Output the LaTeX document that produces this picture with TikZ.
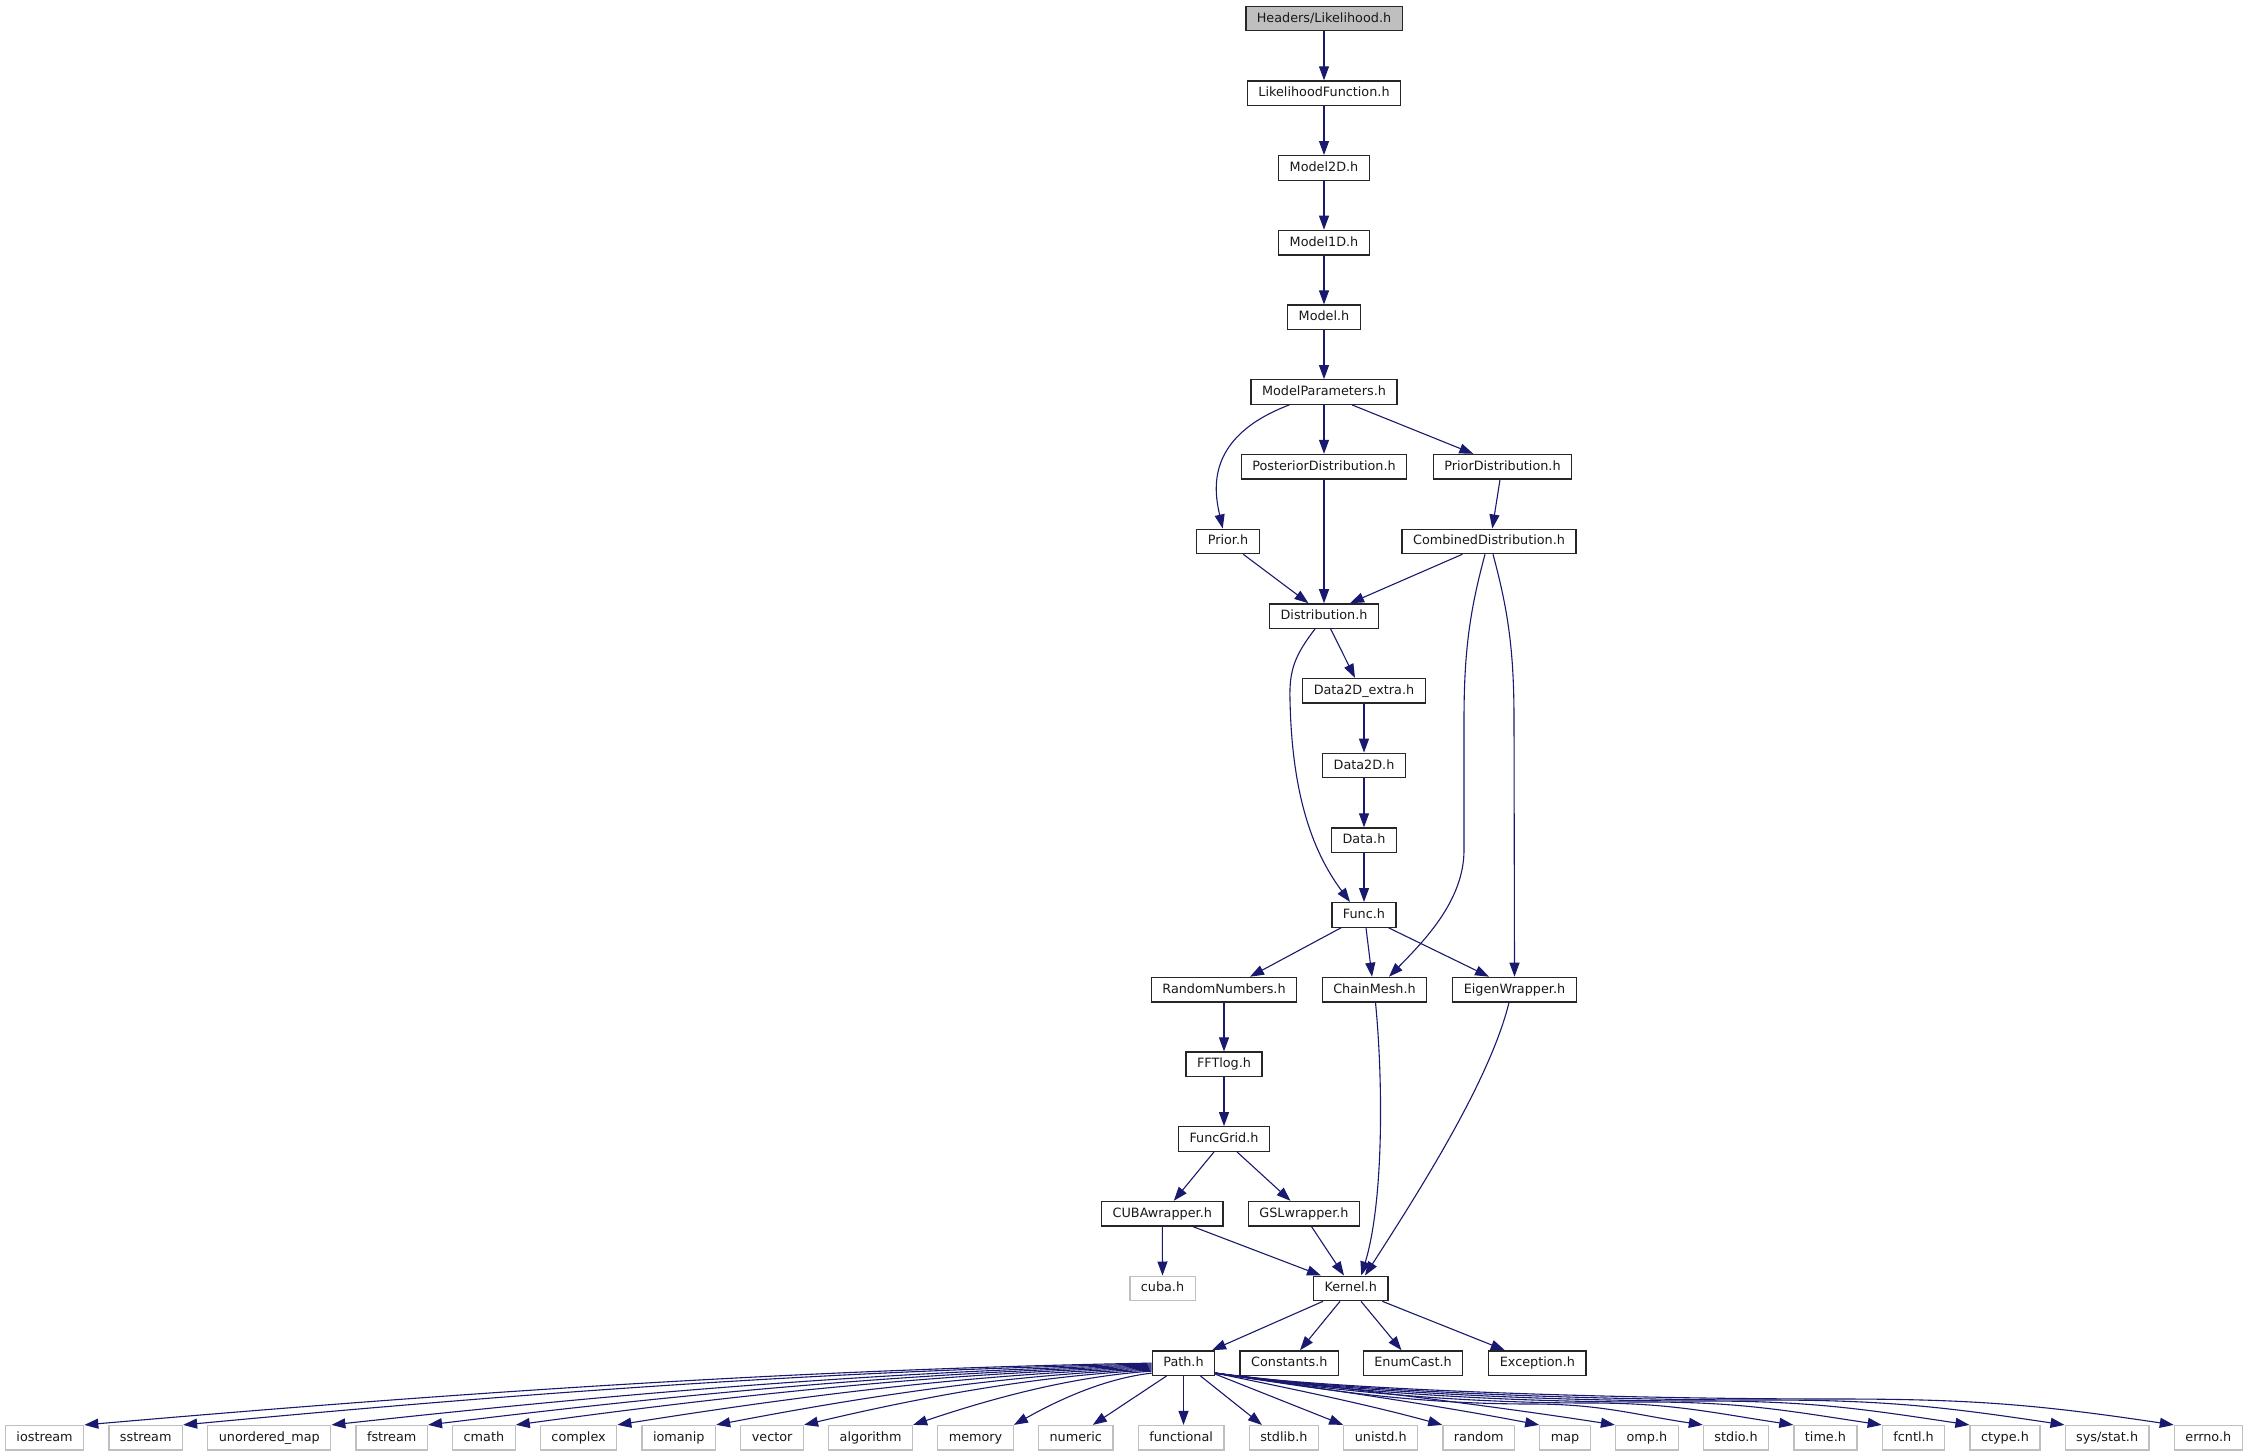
\documentclass[tikz,border=0pt]{standalone}
\usepackage{fontspec}
\setmainfont{DejaVu Sans}
\usetikzlibrary{arrows.meta,calc,positioning}
\definecolor{edgec}{HTML}{191970}
\definecolor{extc}{HTML}{BFBFBF}
\definecolor{rootc}{HTML}{BFBFBF}
\begin{document}
\begin{tikzpicture}[x=1pt,y=1pt,
  box/.style={draw=black!85, line width=1.3pt, fill=white, inner xsep=11pt, inner ysep=0pt,
    minimum height=24.5pt, text height=9.6pt, text depth=2.6pt,
    font=\fontsize{12.8}{15}\selectfont, text=black!90},
  rootbox/.style={box, fill=rootc},
  extbox/.style={box, draw=extc},
  edge/.style={draw=edgec, line width=1.1pt, -{Triangle[length=14pt,width=10pt]}},
]
\fill[white] (0,0) rectangle (2249,-1456);
\useasboundingbox (0,0) rectangle (2249,-1456);

% ---- nodes ----
\node[rootbox] (root) at (1324,-18.5) {Headers/Likelihood.h};
\node[box] (lf) at (1324,-93.2) {LikelihoodFunction.h};
\node[box] (m2d) at (1324,-167.9) {Model2D.h};
\node[box] (m1d) at (1324,-242.6) {Model1D.h};
\node[box] (model) at (1324,-317.3) {Model.h};
\node[box] (mp) at (1324,-392) {ModelParameters.h};
\node[box] (post) at (1324,-466.7) {PosteriorDistribution.h};
\node[box] (priord) at (1502.5,-466.7) {PriorDistribution.h};
\node[box] (prior) at (1228,-541.4) {Prior.h};
\node[box] (comb) at (1489,-541.4) {CombinedDistribution.h};
\node[box] (dist) at (1324,-616.1) {Distribution.h};
\node[box] (d2dx) at (1364,-690.8) {Data2D\_extra.h};
\node[box] (d2d) at (1364,-765.5) {Data2D.h};
\node[box] (data) at (1364,-840.2) {Data.h};
\node[box] (func) at (1364,-914.9) {Func.h};
\node[box] (rn) at (1224,-989.6) {RandomNumbers.h};
\node[box] (cm) at (1374.5,-989.6) {ChainMesh.h};
\node[box] (ew) at (1514.5,-989.6) {EigenWrapper.h};
\node[box] (fft) at (1224,-1064.3) {FFTlog.h};
\node[box] (fg) at (1224,-1139) {FuncGrid.h};
\node[box] (cubaw) at (1162.3,-1213.7) {CUBAwrapper.h};
\node[box] (gsl) at (1304,-1213.7) {GSLwrapper.h};
\node[extbox] (cubah) at (1162.5,-1288.4) {cuba.h};
\node[box] (kernel) at (1350.7,-1288.4) {Kernel.h};
\node[box] (path) at (1183.5,-1363.1) {Path.h};
\node[box] (const) at (1289.3,-1363.1) {Constants.h};
\node[box] (enum) at (1413,-1363.1) {EnumCast.h};
\node[box] (exc) at (1537.4,-1363.1) {Exception.h};

% bottom row
\node[extbox, anchor=west] (iostream) at (4.8,-1437.8) {iostream};
\node[extbox, right=24pt of iostream] (sstream) {sstream};
\node[extbox, right=24pt of sstream] (umap) {unordered\_map};
\node[extbox, right=24pt of umap] (fstream) {fstream};
\node[extbox, right=24pt of fstream] (cmath) {cmath};
\node[extbox, right=24pt of cmath] (complex) {complex};
\node[extbox, right=24pt of complex] (iomanip) {iomanip};
\node[extbox, right=24pt of iomanip] (vector) {vector};
\node[extbox, right=24pt of vector] (algorithm) {algorithm};
\node[extbox, right=24pt of algorithm] (memory) {memory};
\node[extbox, right=24pt of memory] (numeric) {numeric};
\node[extbox, right=24pt of numeric] (functional) {functional};
\node[extbox, right=24pt of functional] (stdlib) {stdlib.h};
\node[extbox, right=24pt of stdlib] (unistd) {unistd.h};
\node[extbox, right=24pt of unistd] (random) {random};
\node[extbox, right=24pt of random] (map) {map};
\node[extbox, right=24pt of map] (omp) {omp.h};
\node[extbox, right=24pt of omp] (stdio) {stdio.h};
\node[extbox, right=24pt of stdio] (time) {time.h};
\node[extbox, right=24pt of time] (fcntl) {fcntl.h};
\node[extbox, right=24pt of fcntl] (ctype) {ctype.h};
\node[extbox, right=24pt of ctype] (sysstat) {sys/stat.h};
\node[extbox, right=24pt of sysstat] (errno) {errno.h};

% ---- edges ----
\draw[edge] (root.south) -- (lf.north);
\draw[edge] (lf.south) -- (m2d.north);
\draw[edge] (m2d.south) -- (m1d.north);
\draw[edge] (m1d.south) -- (model.north);
\draw[edge] (model.south) -- (mp.north);
\draw[edge] ([xshift=-34.7pt]mp.south) .. controls (1205,-437) and (1214,-490) .. ([xshift=-5.3pt]prior.north);
\draw[edge] (mp.south) -- (post.north);
\draw[edge] ([xshift=28pt]mp.south) -- ([xshift=-29.2pt]priord.north);
\draw[edge] ([xshift=-2.5pt]priord.south) -- ([xshift=3.3pt]comb.north);
\draw[edge] ([xshift=15.3pt]prior.south) -- ([xshift=-15.5pt]dist.north);
\draw[edge] (post.south) -- (dist.north);
\draw[edge] ([xshift=-26.7pt]comb.south) -- ([xshift=26pt]dist.north);
\draw[edge] ([xshift=-4pt]comb.south) .. controls (1470,-610) and (1464,-650) .. (1464,-720)
   -- (1464,-850) .. controls (1464,-900) and (1425,-940) .. ([xshift=14.5pt]cm.north);
\draw[edge] ([xshift=4pt]comb.south) .. controls (1508,-610) and (1514,-650) .. (1514,-720)
   -- (ew.north);
\draw[edge] ([xshift=-9pt]dist.south) .. controls (1295,-655) and (1289,-670) .. (1290,-700)
   .. controls (1292,-800) and (1315,-855) .. ([xshift=-14pt]func.north);
\draw[edge] ([xshift=6.7pt]dist.south) -- ([xshift=-9pt]d2dx.north);
\draw[edge] (d2dx.south) -- (d2d.north);
\draw[edge] (d2d.south) -- (data.north);
\draw[edge] (data.south) -- (func.north);
\draw[edge] ([xshift=-23pt]func.south) -- ([xshift=26pt]rn.north);
\draw[edge] ([xshift=2pt]func.south) -- ([xshift=-2.5pt]cm.north);
\draw[edge] ([xshift=24.6pt]func.south) -- ([xshift=-25.5pt]ew.north);
\draw[edge] (rn.south) -- (fft.north);
\draw[edge] (fft.south) -- (fg.north);
\draw[edge] ([xshift=-10pt]fg.south) -- ([xshift=11.5pt]cubaw.north);
\draw[edge] ([xshift=13pt]fg.south) -- ([xshift=-13.5pt]gsl.north);
\draw[edge] (cubaw.south) -- (cubah.north);
\draw[edge] ([xshift=30.6pt]cubaw.south) -- ([xshift=-29.7pt]kernel.north);
\draw[edge] ([xshift=7.5pt]gsl.south) -- ([xshift=-6.7pt]kernel.north);
\draw[edge] ([xshift=1pt]cm.south) .. controls (1383,-1080) and (1384,-1200) .. ([xshift=10.6pt]kernel.north);
\draw[edge] ([xshift=-5.5pt]ew.south) .. controls (1490,-1080) and (1420,-1190) .. ([xshift=14.3pt]kernel.north);
\draw[edge] ([xshift=-27.7pt]kernel.south) -- ([xshift=28.5pt]path.north);
\draw[edge] ([xshift=-10.7pt]kernel.south) -- ([xshift=10.7pt]const.north);
\draw[edge] ([xshift=10.3pt]kernel.south) -- ([xshift=-11.5pt]enum.north);
\draw[edge] ([xshift=31.6pt]kernel.south) -- ([xshift=-32.6pt]exc.north);

% Path.h fan, left side
\foreach \tg/\dy in {iostream/0, sstream/1, umap/2, fstream/3, cmath/4, complex/5, iomanip/6, vector/7, algorithm/8, memory/10}{
  \draw[edge] let \p1=([yshift=-\dy pt]path.west), \p2=(\tg.north east), \n1={\x1-\x2}, \n2={\y1-\y2} in
    (\p1) .. controls ({\x1-\n1/3},{\y1-0.1*\n2}) and ({\x2+\n1/3},{\y2+0.5*\n2}) .. (\p2);
}
\draw[edge] ([xshift=-17pt]path.south) -- ([xshift=17pt]numeric.north);
\draw[edge] (path.south) -- (path.south |- functional.north);
\draw[edge] ([xshift=17pt]path.south) -- ([xshift=-22pt]stdlib.north);
\draw[edge] ([yshift=-11pt]path.east) -- (unistd.north west);
% right side, near
\foreach \tg in {random, map, omp}{
  \draw[edge] let \p1=([yshift=-10pt]path.east), \p2=(\tg.north west), \n1={\x2-\x1}, \n2={\y1-\y2} in
    (\p1) .. controls ({\x1+\n1/3},{\y1-0.3*\n2}) and ({\x2-\n1/3},{\y2+0.4*\n2}) .. (\p2);
}
% right side, far
\foreach \tg/\ym in {stdio/1404, time/1403, fcntl/1402, ctype/1401, sysstat/1400, errno/1399}{
  \draw[edge] let \p1=([yshift=-10pt]path.east), \p2=(\tg.north west),
      \n1={\x2-0.35*(\x2-\x1)}, \n2={\x2-\n1} in
    (\p1) .. controls ($(\p1)+(100,-15)$) and ({\n1-0.4*(\n1-\x1)},{-\ym}) .. ({\n1},{-\ym})
    .. controls ({\n1+0.4*\n2},{-\ym}) and ({\x2-0.4*\n2},{\y2+0.06*\n2}) .. (\p2);
}
\end{tikzpicture}
\end{document}
